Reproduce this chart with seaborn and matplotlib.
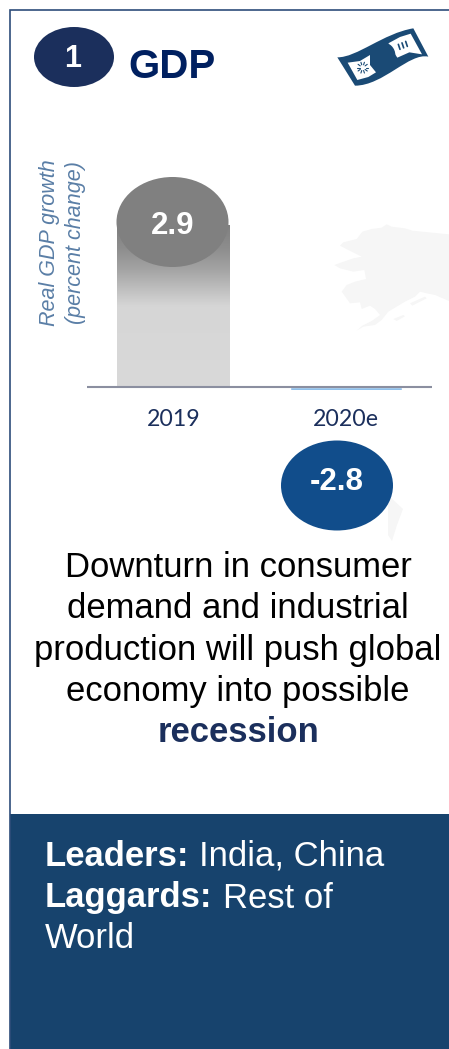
import numpy as np
import pandas as pd
import matplotlib
matplotlib.use("Agg")
import matplotlib.pyplot as plt
from matplotlib.patches import Ellipse, Polygon, PathPatch, Rectangle, Circle
from matplotlib.path import Path
from matplotlib.colors import LinearSegmentedColormap
import seaborn as sns

# Chart data
years = ["2019", "2020e"]
growth = [2.9, -2.8]
value_labels = ["2.9", "-2.8"]
axis_title = "Real GDP growth\n(percent change)"

# Panel copy
panel_number = "1"
panel_title = "GDP"
body_lines = ["Downturn in consumer", "demand and industrial",
              "production will push global", "economy into possible"]
body_emphasis = "recession"

NAVY = "#1b2f5c"
TITLE_BLUE = "#002060"
BADGE_BLUE = "#114d8b"
FOOTER = "#17436d"
ICON = "#1a4a75"
BORDER = "#2e4d7a"
MAP_GREY = "#f6f6f6"

W, H = 449, 1049
sns.set_theme(style="white", rc={"font.family": ["Liberation Sans", "DejaVu Sans"]})
fig = plt.figure(figsize=(W / 100, H / 100), dpi=100, facecolor="white")


def pixel_axes(zorder):
    """Full-figure axes addressed in pixels from the top-left corner."""
    a = fig.add_axes([0, 0, 1, 1], zorder=zorder)
    a.set_xlim(0, W)
    a.set_ylim(H, 0)
    a.axis("off")
    a.patch.set_alpha(0)
    return a


# ---- Background layer: faint map, card outline, footer band ----
bg = pixel_axes(0)
mainland = [(45, 92), (55, 82), (95, 72), (112, 50), (140, 42), (170, 38), (185, 28), (200, 35),
            (240, 40), (262, 47), (372, 58), (372, 258), (330, 240), (305, 235), (285, 230),
            (270, 245), (240, 260), (215, 275), (190, 290), (170, 315), (150, 330), (115, 335),
            (95, 347), (112, 332), (140, 318), (165, 300), (150, 282), (135, 272), (110, 282),
            (105, 262), (75, 265), (50, 230), (65, 210), (90, 200), (123, 192), (118, 165),
            (85, 170), (45, 160), (28, 150), (50, 142), (85, 130), (110, 125), (90, 115), (60, 100)]
islands = [[(205, 312), (235, 300), (240, 304), (215, 318)],
           [(255, 265), (300, 245), (305, 250), (262, 272)]]
for shape in [mainland] + islands:
    pts = [(325 + x / 3, 215 + y / 3) for x, y in shape]
    bg.add_patch(Polygon(pts, closed=True, fc=MAP_GREY, ec="none"))
bg.add_patch(Polygon([(388, 495), (403, 509), (397, 525), (392, 541), (388, 535)],
                     closed=True, fc=MAP_GREY, ec="none"))
bg.add_patch(Rectangle((10, 814), W - 10, H - 814, fc=FOOTER, ec="none"))
bg.plot([10.2, 10.2, W], [H, 9.5, 9.5], color=BORDER, lw=1.2, solid_joinstyle="miter")

# ---- Bar chart ----
ax_left, ax_right, ax_top, ax_bottom = 87, 432, 171, 389.5
zero_px = 387.3
px_per_unit = 55.8
ax = fig.add_axes([ax_left / W, 1 - ax_bottom / H, (ax_right - ax_left) / W, (ax_bottom - ax_top) / H],
                  zorder=1)
ax.patch.set_alpha(0)
df = pd.DataFrame({"year": years, "growth": growth})
sns.barplot(data=df, x="year", y="growth", hue="year", palette=["#d9d9d9", "#8fbfea"],
            width=0.65, legend=False, ax=ax, saturation=1)
sns.despine(ax=ax, left=True, bottom=True)
ax.set_yticks([])
ax.set_xlabel("")
ax.set_ylabel(axis_title, fontstyle="italic", fontsize=15.5, color="#5a7ea6", linespacing=1.35)
ax.yaxis.set_label_coords((86.5 - ax_left) / (ax_right - ax_left), (ax_bottom - 243) / (ax_bottom - ax_top))
ax.tick_params(axis="x", length=0, pad=14, labelsize=16.7, labelcolor=NAVY)
for t in ax.get_xticklabels():
    t.set_fontfamily("Lato")
ax.axhline(0, color="#8b8fa0", lw=1.5, zorder=5)

# Fade the positive bar from mid grey at the top into its light fill
ramp = LinearSegmentedColormap.from_list("fade", [(0, "#808080"), (0.15, "#8e8e8e"), (0.28, "#a5a5a5"),
                                                  (0.4, "#c0c0c0"), (0.5, "#d6d6d6"), (1, "#d9d9d9")])
bar = ax.patches[0]
grad = ax.imshow(np.linspace(0, 1, 256).reshape(-1, 1), cmap=ramp, aspect="auto", origin="upper",
                 extent=(bar.get_x(), bar.get_x() + bar.get_width(), 0, bar.get_height()), zorder=bar.get_zorder() + 0.1)
grad.set_clip_path(bar)
ax.set_xlim(-0.5, 1.5)
# The lower limit sits just under the baseline, so the negative bar stays a sliver.
ax.set_ylim(-(ax_bottom - zero_px) / px_per_unit, (zero_px - ax_top) / px_per_unit)

# ---- Foreground layer: badges, titles, copy, icon ----
top = pixel_axes(2)
top.add_patch(Ellipse((74, 57), 80, 60, fc=NAVY, ec="none"))
top.text(73, 59, panel_number, color="white", fontsize=22, fontweight="bold", ha="center", va="center")
top.text(128.5, 77.5, panel_title, color=TITLE_BLUE, fontsize=29, fontweight="bold", ha="left", va="baseline")

badge_centres = [(172.5, 222, "#808080"), (337, 485.5, BADGE_BLUE)]
label_offsets = [4, -4]
for (cx, cy, colour), label, dy in zip(badge_centres, value_labels, label_offsets):
    top.add_patch(Ellipse((cx, cy), 112, 90, fc=colour, ec="none"))
    top.text(cx, cy + dy, label, color="white", fontsize=22.5, fontweight="bold", ha="center", va="center")

baselines = [577, 618.5, 660, 701.5]
for line, y in zip(body_lines, baselines):
    top.text(238, y, line, color="black", fontsize=24.9, ha="center", va="baseline")
top.text(238, 742, body_emphasis, color=NAVY, fontsize=24.9, fontweight="bold", ha="center", va="baseline")

footer_items = [(45, 865.5, "Leaders:", "bold"), (199, 865.5, "India, China", "normal"),
                (45, 907.5, "Laggards:", "bold"), (223, 907.5, "Rest of", "normal"),
                (45, 948, "World", "normal")]
for x, y, s, weight in footer_items:
    top.text(x, y, s, color="white", fontsize=24.9, fontweight=weight, ha="left", va="baseline")


# Banknote icon, outlined on a 3x grid anchored at (320, 15)
def note(x, y):
    return 320 + x / 3, 15 + y / 3


outline = [(52, 127), (110, 128), (190, 55), (280, 40), (325, 125), (268, 112), (190, 212), (105, 212), (52, 127)]
codes = [Path.MOVETO, Path.CURVE4, Path.CURVE4, Path.CURVE4, Path.LINETO,
         Path.CURVE4, Path.CURVE4, Path.CURVE4, Path.CLOSEPOLY]
top.add_patch(PathPatch(Path([note(*p) for p in outline], codes), fc=ICON, ec="none"))
left_panel = [(83, 143), (120, 138), (150, 120), (150, 150), (168, 172), (145, 186), (112, 195)]
right_panel = [(205, 85), (240, 66), (272, 56), (306, 118), (268, 112), (232, 128), (220, 110)]
for panel in (left_panel, right_panel):
    top.add_patch(Polygon([note(*p) for p in panel], closed=True, fc="white", ec="none"))
top.add_patch(Circle(note(188, 120), 38 / 3, fc=ICON, ec="none"))
for ang in np.deg2rad(np.arange(0, 360, 36)):
    cx, cy = 128, 158
    top.plot(*zip(note(cx + 9 * np.cos(ang), cy + 9 * np.sin(ang)),
                  note(cx + 17 * np.cos(ang), cy + 17 * np.sin(ang))), color=ICON, lw=0.8)
for dx in (236, 247, 258):
    rise = (dx - 236) * 0.4
    top.plot(*zip(note(dx + 4, 103 - rise), note(dx - 1, 88 - rise)), color=ICON, lw=1.2)

fig.savefig("out.png", dpi=100)
